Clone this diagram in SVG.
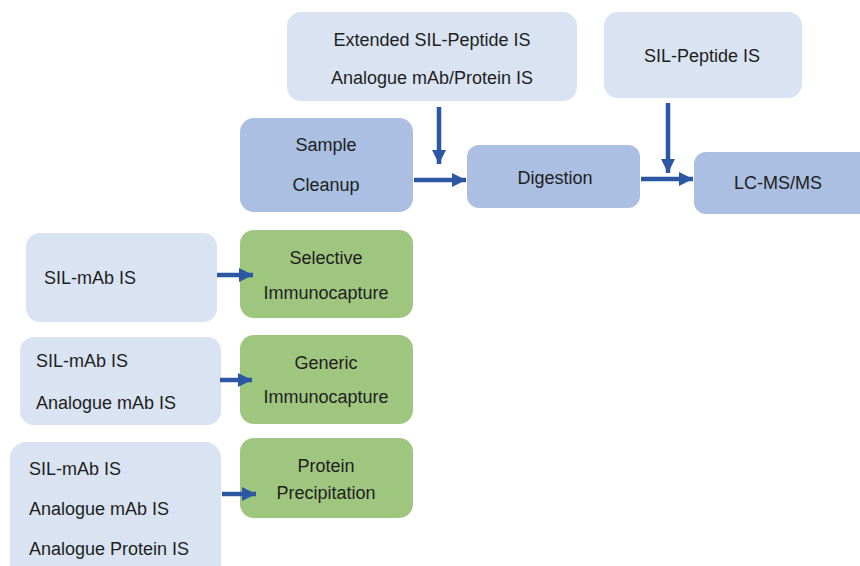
<svg xmlns="http://www.w3.org/2000/svg" width="860" height="566" viewBox="0 0 860 566">
  <style>
    .light { fill: #dae3f1; }
    .mid { fill: #aabfe1; }
    .green { fill: #9ec67f; }
    text { font-family: "Liberation Sans", Arial, sans-serif; font-size: 18px; fill: #1e1e1e; }
    .c { text-anchor: middle; }
    .conn { stroke: #2c57a2; stroke-width: 4.5; fill: none; marker-end: url(#head); }
  </style>
  <defs>
    <marker id="head" markerUnits="userSpaceOnUse" markerWidth="16" markerHeight="16" refX="14" refY="8" orient="auto">
      <polygon points="0,1 14,8 0,15" fill="#2c57a2"/>
    </marker>
  </defs>
  <rect width="860" height="566" fill="#ffffff"/>

  <!-- internal standard sources -->
  <g id="ext-sil-peptide">
    <rect class="light" x="287" y="12" width="290" height="89" rx="14"/>
    <text class="c" x="432" y="46">Extended SIL-Peptide IS</text>
    <text class="c" x="432" y="84">Analogue mAb/Protein  IS</text>
  </g>
  <g id="sil-peptide">
    <rect class="light" x="604" y="12" width="198" height="86" rx="14"/>
    <text class="c" x="702" y="62">SIL-Peptide IS</text>
  </g>

  <!-- main workflow -->
  <g id="sample-cleanup">
    <rect class="mid" x="240" y="118" width="173" height="94" rx="14"/>
    <text class="c" x="326" y="151">Sample</text>
    <text class="c" x="326" y="191">Cleanup</text>
  </g>
  <g id="digestion">
    <rect class="mid" x="467" y="145" width="173" height="63" rx="12"/>
    <text class="c" x="555" y="184">Digestion</text>
  </g>
  <g id="lcmsms">
    <rect class="mid" x="694" y="152" width="180" height="62" rx="12"/>
    <text class="c" x="778" y="189">LC-MS/MS</text>
  </g>

  <!-- cleanup options with their internal standards -->
  <g id="is-selective">
    <rect class="light" x="26" y="233" width="191" height="89" rx="14"/>
    <text x="44" y="284">SIL-mAb IS</text>
  </g>
  <g id="selective-immunocapture">
    <rect class="green" x="240" y="230" width="173" height="88" rx="14"/>
    <text class="c" x="326" y="264">Selective</text>
    <text class="c" x="326" y="299">Immunocapture</text>
  </g>

  <g id="is-generic">
    <rect class="light" x="20" y="337" width="201" height="88" rx="14"/>
    <text x="36" y="367">SIL-mAb IS</text>
    <text x="36" y="409">Analogue mAb IS</text>
  </g>
  <g id="generic-immunocapture">
    <rect class="green" x="240" y="335" width="173" height="89" rx="14"/>
    <text class="c" x="326" y="369">Generic</text>
    <text class="c" x="326" y="403">Immunocapture</text>
  </g>

  <g id="is-precipitation">
    <rect class="light" x="10" y="442" width="211" height="140" rx="16"/>
    <text x="29" y="475">SIL-mAb IS</text>
    <text x="29" y="515">Analogue mAb IS</text>
    <text x="29" y="555">Analogue Protein IS</text>
  </g>
  <g id="protein-precipitation">
    <rect class="green" x="240" y="438" width="173" height="80" rx="14"/>
    <text class="c" x="326" y="472">Protein</text>
    <text class="c" x="326" y="499">Precipitation</text>
  </g>

  <!-- connectors -->
  <g id="connectors">
    <path class="conn" d="M439,107 V164"/>
    <path class="conn" d="M414,180 H466"/>
    <path class="conn" d="M668,103 V173"/>
    <path class="conn" d="M641,179 H693"/>
    <path class="conn" d="M217,275 H253"/>
    <path class="conn" d="M220,380 H252"/>
    <path class="conn" d="M222,494 H256"/>
  </g>
</svg>
